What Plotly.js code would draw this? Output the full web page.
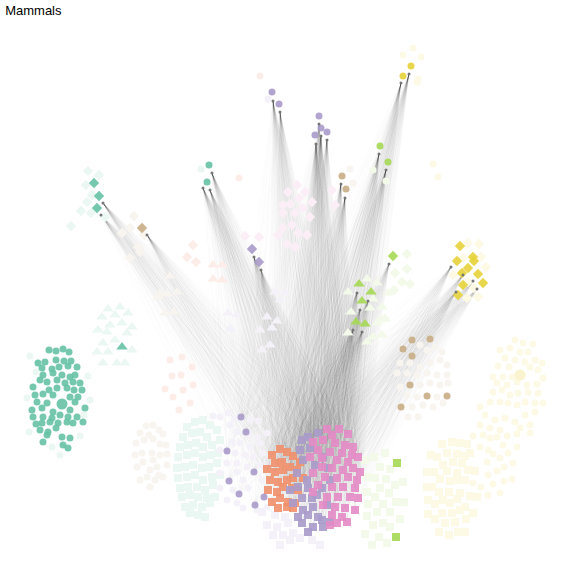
<!DOCTYPE html>
<html>
<head>
<meta charset="utf-8">
<script src="https://cdn.plot.ly/plotly-3.0.1.min.js"></script>
<style>
  html, body { margin: 0; padding: 0; background: #fff; }
  #graph { width: 576px; height: 576px; }
</style>
</head>
<body>
<div id="graph"></div>
<script>
// node positions (x right, y down)

// highlighted nodes
const tealCircles = [[49,350],[56,351],[63,349],[69,352],[38,363],[45,362],[56,360],[64,361],[71,361],
  [42,368],[52,369],[59,367],[68,366],[77,367],[43,375],[53,373],[62,375],[70,377],[75,375],
  [40,380],[47,382],[57,380],[65,383],[73,382],[80,383],[33,387],[49,390],[57,388],[67,388],[74,390],[82,390],
  [35,395],[43,394],[53,395],[70,397],[78,397],[37,402],[47,403],[75,402],
  [32,410],[42,408],[53,412],[70,410],[85,408],[33,417],[43,417],[52,418],[60,415],[68,417],[77,417],
  [42,423],[50,422],[58,423],[67,422],[73,423],[83,422],[40,430],[48,432],[62,437],[70,438],[43,442],[47,435],
  [63,445],[68,448],[56,428],[36,424]];
const tealBig = [[62,404]];
const orangeSquares = [[272,455],[280,449],[287,452],[293,456],[275,463],[282,462],[267,469],[275,472],[283,470],
  [290,467],[297,470],[270,480],[278,482],[287,480],[293,478],[268,490],[277,492],[283,487],[292,488],[298,490],
  [272,502],[280,498],[288,502],[295,503],[278,508],[287,507],[293,508],[300,462],[303,478]];
const purpleSquares = [[302,440],[308,437],[318,433],[300,450],[310,448],[303,460],[297,473],[307,480],[298,487],
  [308,488],[290,490],[302,498],[312,498],[293,503],[303,510],[313,507],[298,517],[308,515],[318,517],[302,523],
  [313,527],[323,527],[308,532],[322,520],[330,522],[317,495],[322,488],[315,465],[323,457],[328,468],[330,480],[327,505]];
const pinkSquares = [[327,429],[339,429],[332,435],[348,434],[313,442],[323,440],[335,443],[345,445],[353,447],
  [318,450],[330,452],[342,453],[352,455],[358,457],[310,457],[322,458],[337,460],[348,462],[322,467],[332,468],
  [343,470],[353,468],[360,472],[313,473],[325,477],[337,478],[348,477],[357,480],[318,485],[332,487],[343,487],
  [355,488],[313,492],[327,497],[338,497],[350,497],[358,498],[323,505],[335,507],[345,508],[355,510],[332,515],
  [342,517],[337,523],[347,522],[330,525]];
const limeSquares = [[397,463],[396,537]];
const purpleLowCircles = [[241,417],[246,432],[227,451],[254,472],[229,481],[239,494],[264,497],[255,505]];
const tanCircles = [[412,340],[430,339],[403,349],[412,356],[410,385],[427,396],[447,396],[401,407]];
const purpleTopCircles = [[272,92],[279,104],[319,116],[321,128],[327,132],[315,135]];
const yellowCircles = [[411,66],[403,76]];
const limeCircles = [[380,146],[388,162]];
const tanTopCircles = [[342,176],[346,189]];
const tealTopCircles = [[209,165],[207,182]];
const tealDiamonds = [[94,183],[99,196],[97,208]];
const tanDiamonds = [[142,228]];
const purpleDiamonds = [[252,249],[259,262]];
const limeDiamonds = [[393,256]];
const yellowDiamonds = [[460,246],[473,257],[457,261],[468,268],[462,273],[478,274],[474,261],[463,285],[483,283],[458,295]];
const limeTriangles = [[359,284],[371,292],[362,301],[356,322],[365,324]];
const tealTriangles = [[122,347]];

// faded nodes
const fadeTealCircles = [[30,356],[36,372],[27,398],[88,376],[90,400],[29,432],[52,447],[80,436],[60,455],[84,415],[201,169]];
const fadeTealSquares = [[187,427],[195,422],[203,420],[210,425],[183,437],[192,433],[200,432],[207,437],[217,430],
  [180,447],[188,445],[196,443],[203,447],[212,445],[220,440],[178,457],[187,455],[195,453],[203,457],[210,455],
  [218,453],[177,468],[185,467],[193,465],[202,468],[209,467],[217,463],[178,478],[187,477],[195,475],[203,480],
  [212,477],[220,475],[180,488],[188,487],[197,487],[205,490],[213,485],[182,497],[190,495],[198,497],[207,498],
  [215,497],[185,507],[193,505],[202,507],[210,503],[190,513],[198,515],[205,517]];
const fadeTealTriangles = [[108,309],[120,307],[102,317],[115,315],[128,313],[110,325],[122,323],[98,330],[107,332],
  [127,333],[132,327],[103,343],[115,340],[97,352],[108,352],[132,350],[103,363],[117,363],[125,363]];
const fadeTealDiamonds = [[88,171],[99,175],[86,185],[92,195],[87,202],[81,211],[91,213],[105,217],[71,226]];
const fadeTanCircles = [[146,426],[153,425],[140,433],[149,435],[159,430],[163,434],[136,443],[144,440],[153,439],
  [160,444],[166,445],[135,455],[142,453],[152,453],[160,455],[167,454],[137,467],[143,462],[150,470],[157,467],
  [167,465],[140,480],[147,477],[155,480],[163,477],[150,487],[153,460],[159,475]];
const fadeTanRight = [[420,345],[427,350],[435,347],[442,352],[400,363],[410,363],[420,367],[430,363],[440,360],
  [447,365],[397,373],[407,373],[417,375],[427,373],[437,375],[447,375],[400,387],[420,385],[430,383],[440,385],
  [448,383],[407,395],[417,397],[437,397],[412,407],[423,405],[433,407],[443,403],[408,417],[418,417],
  [350,169],[353,183]];
const fadeTanTriangles = [[170,276],[160,293],[167,294],[177,292],[158,297],[165,313],[174,312]];
const fadeTanDiamonds = [[134,216],[130,228],[122,233],[138,247],[140,252],[130,258],[144,235]];
const fadeSalmonCircles = [[170,360],[182,357],[192,367],[172,376],[181,375],[193,385],[165,389],[183,390],
  [173,397],[190,403],[179,410],[260,76],[239,178]];
const fadeSalmonMarks = [[213,265],[222,265],[213,279],[222,280]];
const fadeSalmonDiamonds = [[193,245],[187,257],[196,262]];
const fadePurpleCircles = [[213,416],[220,417],[228,413],[235,419],[250,420],[258,421],[230,425],[237,432],[250,435],
  [258,437],[267,433],[232,442],[240,443],[250,447],[260,443],[220,450],[235,453],[245,455],[253,457],[263,453],
  [227,463],[237,463],[247,467],[260,465],[220,473],[237,472],[243,480],[262,480],[220,488],[233,490],[248,488],
  [227,500],[237,503],[243,508],[257,510],[267,507],[268,99]];
const fadePurpleSquares = [[275,515],[285,517],[267,525],[277,527],[288,523],[273,535],[283,535],[293,533],
  [290,540],[300,538],[280,545],[312,540],[320,545],[262,512]];
const fadePurpleTriangles = [[228,313],[237,315],[230,329],[267,317],[277,321],[260,330],[272,328],[262,350],
  [270,345],[275,292],[285,293],[280,300]];
const fadePurpleDiamonds = [[288,192],[297,185],[305,192],[283,205],[290,204],[299,198],[312,202],[283,213],
  [295,213],[303,208],[310,217],[283,228],[292,225],[298,233],[307,235],[278,235],[287,244],[295,247],
  [245,236],[259,237],[332,190],[335,205]];
const fadeLimeSquares = [[365,460],[374,457],[385,453],[380,467],[390,469],[367,477],[375,478],[386,479],[395,485],
  [403,482],[367,492],[380,488],[389,493],[375,497],[383,504],[396,502],[404,502],[368,504],[377,512],[390,512],
  [367,516],[373,525],[383,523],[390,527],[400,519],[365,534],[379,537],[387,543],[372,545]];
const fadeLimeTriangles = [[367,279],[377,283],[348,292],[373,299],[382,307],[351,312],[370,308],[380,320],
  [385,318],[377,323],[348,333],[373,337],[382,335],[367,342],[388,293],[385,319],[382,335]];
const fadeLimeDiamonds = [[407,254],[395,273],[407,269],[402,282],[410,284],[394,290]];
const fadeLimeCircles = [[373,170],[386,181]];
const fadeYellowSquares = [[442,444],[452,442],[460,443],[467,444],[431,455],[437,457],[447,453],[457,454],[465,456],
  [470,453],[443,465],[453,462],[462,463],[427,472],[434,472],[447,471],[457,473],[468,470],[475,471],[440,479],
  [450,481],[458,480],[465,480],[427,487],[432,487],[439,492],[449,492],[460,493],[470,496],[477,497],[428,500],
  [435,504],[443,500],[450,503],[457,499],[465,507],[473,513],[428,514],[442,513],[452,513],[460,510],[435,519],
  [445,523],[455,522],[466,519],[439,532],[449,535],[458,532],[465,532]];
const fadeYellowCircles = [[515,340],[523,343],[533,344],[500,350],[510,348],[520,352],[528,352],[505,358],[515,360],
  [525,362],[535,360],[542,363],[498,366],[509,367],[530,367],[538,370],[493,377],[503,377],[512,377],
  [522,375],[543,378],[497,383],[507,385],[517,382],[527,385],[537,384],[493,392],[502,390],[510,395],[518,393],
  [528,392],[538,393],[500,402],[508,403],[517,405],[525,402],[535,403],[543,403],[480,407],[490,402],
  [485,415],[495,420],[505,418],[515,422],[525,415],[535,412],[530,425],[520,428],[490,428],[500,430],[480,425],
  [473,436],[483,435],[490,438],[497,437],[507,436],[517,434],[530,433],[480,447],[488,450],[503,445],[517,447],
  [493,454],[508,453],[487,462],[500,458],[513,463],[497,471],[504,467],[488,475],[504,481],[512,479],[493,484],
  [481,487],[500,493],[488,495],[473,483],[473,470],[403,55],[413,48],[421,57],[418,79],[417,82],[433,164],[438,177]];
const fadeYellowBig = [[520,375]];
const fadeYellowDiamonds = [[468,243],[479,244],[463,258],[481,257],[486,267],[468,282],[474,288],[467,298],[478,297],[453,275]];

// small dark points where the edges start
const hubs = [[273,101],[280,112],[319,124],[321,136],[316,144],[327,140],[409,74],[401,83],[379,154],[386,170],
  [341,184],[345,198],[212,173],[203,188],[210,190],[103,203],[101,215],[147,235],[254,257],[261,270],[389,264],
  [451,267],[463,275],[473,281],[456,292],[477,289],[357,293],[368,301],[360,310],[353,330],[362,332]];

// every hub is linked to every node of the central block, and more faintly to the side blocks
const edgeTargets = [].concat(orangeSquares, purpleSquares, pinkSquares, purpleLowCircles);
const sideTargets = [].concat(tealCircles, tanCircles);

const teal = '#66c2a5', orange = '#f0906d', purple = '#a99bcb', pink = '#e38bc5',
      lime = '#a6d854', yellow = '#e6d33a', tan = '#c9ad85';

function light(hex, k) {
  const n = parseInt(hex.slice(1), 16);
  const c = [(n >> 16) & 255, (n >> 8) & 255, n & 255].map(v => Math.round(255 - k * (255 - v)));
  return 'rgb(' + c.join(',') + ')';
}

const fade = 0.13;
const nodeGroups = [
  [fadeTealCircles, light(teal, fade), 'circle', 7],
  [fadeTealSquares, light(teal, fade), 'square', 8],
  [fadeTealTriangles, light(teal, fade), 'triangle-up', 10],
  [fadeTealDiamonds, light(teal, fade), 'diamond', 8],
  [fadeTanCircles, light(tan, fade), 'circle', 7],
  [fadeTanRight, light(tan, fade), 'circle', 7],
  [fadeTanTriangles, light(tan, fade), 'triangle-up', 10],
  [fadeTanDiamonds, light(tan, fade), 'diamond', 8],
  [fadeSalmonCircles, light(orange, 0.16), 'circle', 7],
  [fadeSalmonMarks, light(orange, 0.16), 'triangle-up', 10],
  [fadeSalmonDiamonds, light(orange, 0.16), 'diamond', 8],
  [fadePurpleCircles, light(purple, fade), 'circle', 7],
  [fadePurpleSquares, light(purple, fade), 'square', 8],
  [fadePurpleTriangles, light(purple, fade), 'triangle-up', 10],
  [fadePurpleDiamonds, light(pink, 0.15), 'diamond', 8],
  [fadeLimeSquares, light(lime, fade), 'square', 8],
  [fadeLimeTriangles, light(lime, fade), 'triangle-up', 10],
  [fadeLimeDiamonds, light(lime, fade), 'diamond', 8],
  [fadeLimeCircles, light(lime, fade), 'circle', 7],
  [fadeYellowSquares, light(yellow, fade), 'square', 8],
  [fadeYellowCircles, light(yellow, fade), 'circle', 7],
  [fadeYellowBig, light(yellow, 0.25), 'circle', 11],
  [fadeYellowDiamonds, light(yellow, fade), 'diamond', 8],
  [tealCircles, teal, 'circle', 7],
  [tealBig, teal, 'circle', 11],
  [orangeSquares, orange, 'square', 8],
  [purpleSquares, purple, 'square', 8],
  [pinkSquares, pink, 'square', 8],
  [limeSquares, lime, 'square', 8],
  [purpleLowCircles, purple, 'circle', 7],
  [tanCircles, tan, 'circle', 7],
  [purpleTopCircles, purple, 'circle', 7],
  [yellowCircles, yellow, 'circle', 7],
  [limeCircles, lime, 'circle', 7],
  [tanTopCircles, tan, 'circle', 7],
  [tealTopCircles, teal, 'circle', 7],
  [tealDiamonds, teal, 'diamond', 8],
  [tanDiamonds, tan, 'diamond', 8],
  [purpleDiamonds, purple, 'diamond', 8],
  [limeDiamonds, lime, 'diamond', 8],
  [yellowDiamonds, yellow, 'diamond', 8],
  [limeTriangles, lime, 'triangle-up', 10],
  [tealTriangles, teal, 'triangle-up', 10]
];

let traces = [];

// one trace per target node, so the faint lines add up where they bundle
function edgeTrace(t, color) {
  let xs = [], ys = [];
  hubs.forEach(h => {
    xs.push(h[0], t[0], null);
    ys.push(h[1], t[1], null);
  });
  return {
    x: xs, y: ys, type: 'scatter', mode: 'lines',
    line: {color: color, width: 0.5},
    hoverinfo: 'skip', showlegend: false
  };
}
sideTargets.forEach(t => traces.push(edgeTrace(t, 'rgba(120,120,120,0.008)')));
edgeTargets.forEach(t => traces.push(edgeTrace(t, 'rgba(110,110,110,0.026)')));

nodeGroups.forEach(g => {
  const faded = g[1].startsWith('rgb(');
  traces.push({
    x: g[0].map(p => p[0]), y: g[0].map(p => p[1]),
    type: 'scatter', mode: 'markers',
    marker: {color: g[1], symbol: g[2], size: g[3], opacity: faded ? 1 : 0.9, line: {width: 0}},
    hoverinfo: 'skip', showlegend: false
  });
});

traces.push({
  x: hubs.map(p => p[0]), y: hubs.map(p => p[1]),
  type: 'scatter', mode: 'markers',
  marker: {color: '#777', size: 3, line: {width: 0}},
  hoverinfo: 'skip', showlegend: false
});

let layout = {
  width: 576, height: 576,
  margin: {l: 0, r: 0, t: 0, b: 0},
  paper_bgcolor: '#fff', plot_bgcolor: '#fff',
  title: {
    text: 'Mammals', x: 0.009, xanchor: 'left', y: 0.981, yanchor: 'middle',
    font: {family: 'Liberation Sans, Arial, sans-serif', size: 13, color: '#000'}
  },
  xaxis: {range: [0, 576], visible: false, fixedrange: true},
  yaxis: {range: [576, 0], visible: false, fixedrange: true},
  showlegend: false
};

Plotly.newPlot('graph', traces, layout, {staticPlot: true});
</script>
</body>
</html>
